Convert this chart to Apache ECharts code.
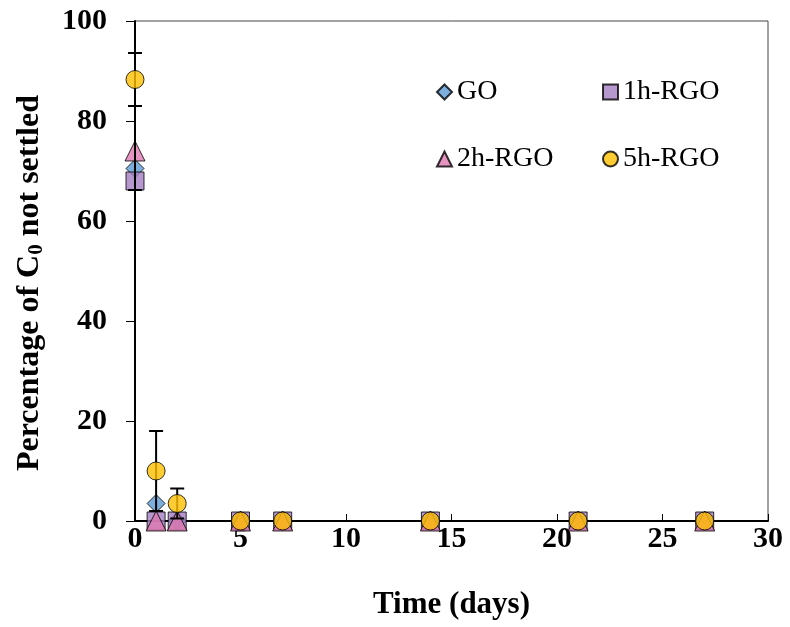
<!DOCTYPE html>
<html>
<head>
<meta charset="utf-8">
<script src="https://cdn.jsdelivr.net/npm/echarts@6/dist/echarts.min.js"></script>
<style>
  html, body { margin: 0; padding: 0; background: #fff; }
  #chart { width: 790px; height: 627px; }
</style>
</head>
<body>
<div id="chart"></div>
<script>
  // time points (days)
  var days = [0, 1, 2, 5, 7, 14, 21, 27];
  var seriesNames = ['GO', '1h-RGO', '2h-RGO', '5h-RGO'];

  // percentage of C0 not settled
  var goVals  = [70.5, 3.5, 0, 0, 0, 0, 0, 0];
  var h1Vals  = [68, 0, 0, 0, 0, 0, 0, 0];
  var h2Vals  = [74, 0, 0, 0, 0, 0, 0, 0];
  var h5Vals  = [88.3, 10, 3.5, 0, 0, 0, 0, 0];

  // error bars (plus / minus)
  var h2ErrUp = [9, 0, 0, 0, 0, 0, 0, 0];
  var h2ErrDn = [7.8, 0, 0, 0, 0, 0, 0, 0];
  var h5ErrUp = [5.3, 8, 3, 0, 0, 0, 0, 0];
  var h5ErrDn = [5.3, 8, 3, 0, 0, 0, 0, 0];

  var font = 'Liberation Serif, Times New Roman, serif';

  function pairs(vals) {
    return days.map(function (d, i) { return [d, vals[i]]; });
  }
  function errData(vals, up, dn) {
    return days.map(function (d, i) { return [d, vals[i], up[i], dn[i]]; });
  }

  function renderErr(params, api) {
    var x = api.value(0), y = api.value(1), up = api.value(2), dn = api.value(3);
    var kids = [];
    var st = { stroke: '#000', lineWidth: 2 };
    var c = api.coord([x, y]);
    if (up > 0) {
      var pu = api.coord([x, y + up]);
      kids.push({ type: 'line', shape: { x1: c[0], y1: c[1], x2: pu[0], y2: pu[1] }, style: st });
      kids.push({ type: 'line', shape: { x1: pu[0] - 7, y1: pu[1], x2: pu[0] + 7, y2: pu[1] }, style: st });
    }
    if (dn > 0) {
      var pd = api.coord([x, y - dn]);
      kids.push({ type: 'line', shape: { x1: c[0], y1: c[1], x2: pd[0], y2: pd[1] }, style: st });
      kids.push({ type: 'line', shape: { x1: pd[0] - 7, y1: pd[1], x2: pd[0] + 7, y2: pd[1] }, style: st });
    }
    return { type: 'group', children: kids };
  }

  function legendAt(name, left, top) {
    return {
      data: [name], left: left, top: top,
      itemWidth: 15, itemHeight: 15, itemGap: 0,
      selectedMode: false,
      textStyle: { fontFamily: font, fontSize: 28, color: '#000' }
    };
  }

  var chart = echarts.init(document.getElementById('chart'));
  var markerBorder = { borderColor: '#000', borderWidth: 1 };

  var option = {
    backgroundColor: '#fff',
    animation: false,
    grid: { left: 135, right: 22, top: 21, bottom: 106, show: true, borderColor: '#444', borderWidth: 1 },
    legend: [
      legendAt('GO', 431, 73),
      legendAt('1h-RGO', 597, 73),
      legendAt('2h-RGO', 431, 140),
      legendAt('5h-RGO', 597, 140)
    ],
    xAxis: {
      type: 'value', min: 0, max: 30, interval: 5,
      name: 'Time (days)', nameLocation: 'middle', nameGap: 68,
      nameTextStyle: { fontFamily: font, fontSize: 31, fontWeight: 'bold', color: '#000' },
      axisLine: { lineStyle: { color: '#000', width: 2 } },
      axisTick: { inside: true, length: 7, lineStyle: { color: '#000', width: 1 } },
      axisLabel: { fontFamily: font, fontSize: 30, fontWeight: 'bold', color: '#000', margin: 3 },
      splitLine: { show: false }
    },
    yAxis: {
      type: 'value', min: 0, max: 100, interval: 20,
      name: 'Percentage of C{s|0} not settled', nameLocation: 'middle', nameGap: 88,
      nameTextStyle: {
        fontFamily: font, fontSize: 32, fontWeight: 'bold', color: '#000',
        padding: [0, 24, 0, 0],
        rich: { s: { fontFamily: font, fontSize: 21, fontWeight: 'bold', color: '#000', verticalAlign: 'bottom', padding: [14, 0, 0, 0] } }
      },
      axisLine: { lineStyle: { color: '#000', width: 2 } },
      axisTick: { inside: false, length: 9, lineStyle: { color: '#000', width: 1 } },
      axisLabel: { fontFamily: font, fontSize: 30, fontWeight: 'bold', color: '#000', margin: 28 },
      splitLine: { show: false }
    },
    series: [
      {
        name: 'GO', type: 'scatter', symbol: 'diamond', symbolSize: 18, z: 2,
        itemStyle: Object.assign({ color: '#5B9BD5' }, markerBorder),
        data: pairs(goVals)
      },
      {
        name: '1h-RGO', type: 'scatter', symbol: 'rect', symbolSize: 18, z: 3,
        itemStyle: Object.assign({ color: '#A47DC2' }, markerBorder),
        data: pairs(h1Vals)
      },
      {
        name: '2h-RGO', type: 'scatter', symbol: 'triangle', symbolSize: 20, z: 4,
        itemStyle: Object.assign({ color: '#DE78B0' }, markerBorder),
        data: pairs(h2Vals)
      },
      {
        type: 'custom', renderItem: renderErr, z: 5, silent: true,
        encode: { x: 0, y: 1 },
        data: errData(h2Vals, h2ErrUp, h2ErrDn)
      },
      {
        type: 'custom', renderItem: renderErr, z: 5, silent: true,
        encode: { x: 0, y: 1 },
        data: errData(h5Vals, h5ErrUp, h5ErrDn)
      },
      {
        name: '5h-RGO', type: 'scatter', symbol: 'circle', symbolSize: 18, z: 6,
        itemStyle: Object.assign({ color: '#FFC000' }, markerBorder),
        data: pairs(h5Vals)
      }
    ]
  };
  chart.setOption(option);
</script>
</body>
</html>
